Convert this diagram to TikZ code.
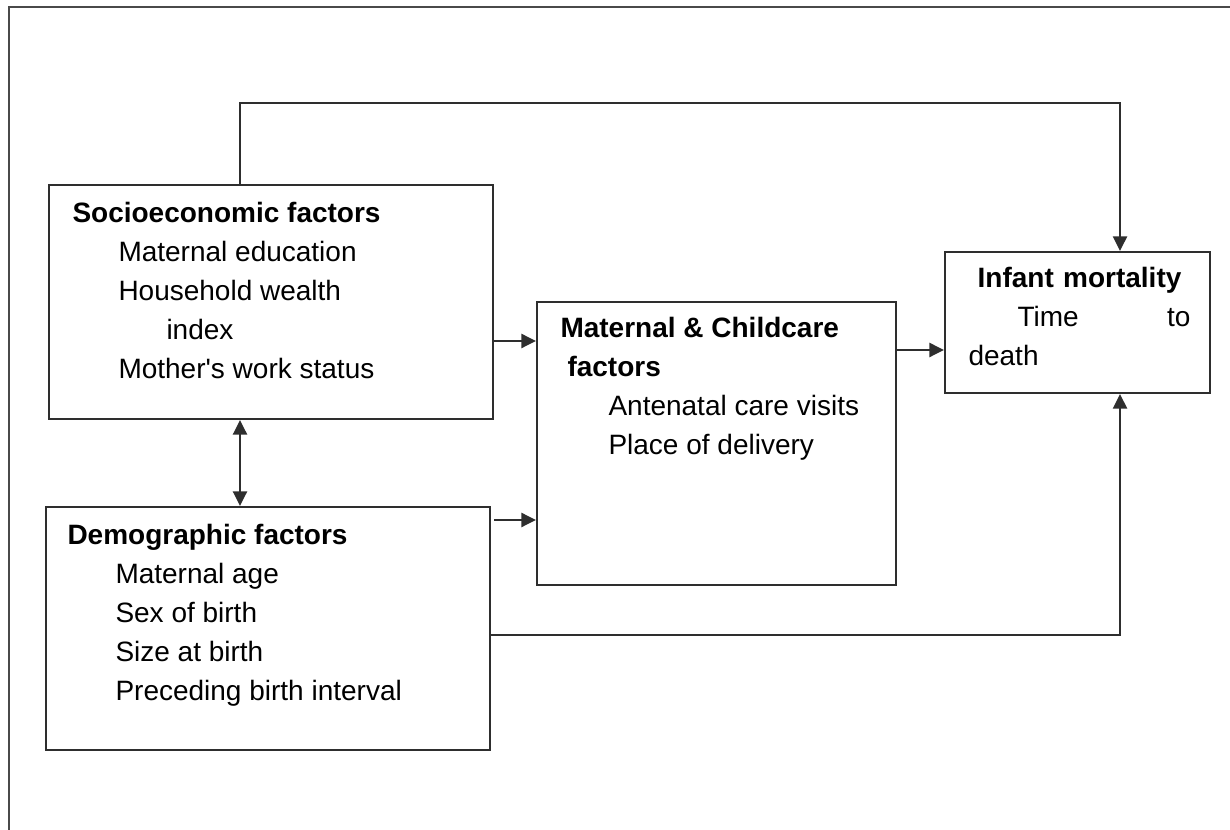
\documentclass[tikz,border=0pt]{standalone}
\usepackage{fontspec}
\setmainfont{Liberation Sans}
\usetikzlibrary{arrows.meta,positioning,calc}
\definecolor{boxline}{HTML}{2E2E2E}
\definecolor{frameline}{HTML}{4A4A4A}

\begin{document}
\begin{tikzpicture}[
    x=0.4pt, y=-0.4pt,
    every node/.style={font=\fontsize{11.2}{15.6}\selectfont},
    factorbox/.style={draw=boxline, line width=0.85pt, inner sep=0pt},
    boxtext/.style={anchor=north west, align=left, inner sep=0pt},
    link/.style={draw=boxline, line width=0.85pt, -{Triangle[length=5.8pt,width=5.6pt]}},
    dlink/.style={draw=boxline, line width=0.85pt, {Triangle[length=5.8pt,width=5.6pt]}-{Triangle[length=5.8pt,width=5.6pt]}},
]
\useasboundingbox (0,0) rectangle (1230,830);

% Outer frame (open at right and bottom)
\draw[frameline, line width=0.8pt] (9,830) -- (9,7) -- (1230,7);

% Factor boxes
\node[factorbox, minimum width=177.6pt, minimum height=93.6pt] (socio) at (271,302) {};
\node[factorbox, minimum width=177.6pt, minimum height=97.2pt] (demo) at (268,628.5) {};
\node[factorbox, minimum width=143.6pt, minimum height=113.2pt] (matern) at (716.5,443.5) {};
\node[factorbox, minimum width=106pt, minimum height=56.4pt] (infant) at (1077.5,322.5) {};

% Box texts
\node[boxtext] (socio-txt) at (72,202) {\textbf{Socioeconomic factors}\\
    \hspace*{18.4pt}Maternal education\\
    \hspace*{18.4pt}Household wealth\\
    \hspace*{37.6pt}index\\
    \hspace*{18.4pt}Mother\textquotesingle s work status};

\node[boxtext] (demo-txt) at (67,524) {\textbf{Demographic factors}\\
    \hspace*{19.2pt}Maternal age\\
    \hspace*{19.2pt}Sex of birth\\
    \hspace*{19.2pt}Size at birth\\
    \hspace*{19.2pt}Preceding birth interval};

\node[boxtext] (matern-txt) at (560,317) {\textbf{Maternal \& Childcare}\\
    \hspace*{2.8pt}\textbf{factors}\\
    \hspace*{19.2pt}Antenatal care visits\\
    \hspace*{19.2pt}Place of delivery};

\node[anchor=north west, inner sep=0pt, text width=88.8pt, align=center] (infant-txt) at (968,267)
    {\textbf{Infant mortality}\\ \hspace*{19.6pt}Time\hfill to\\ death\hfill\mbox{}};

% Bend points of the outer links
\coordinate (loopA) at (240,103);
\coordinate (loopB) at (1120,103);

% Links
\draw[link] (socio.north -| loopA) |- (loopB) -- (infant.north -| loopB);
\draw[dlink] (socio.south -| loopA) -- (demo.north -| loopA);
\draw[link] ([yshift=-15.6pt]socio.east) -- ([yshift=-15.6pt]socio.east -| matern.west);
\draw[link] ([xshift=1.2pt,yshift=43.4pt]demo.east) -- ([yshift=43.4pt]demo.east -| matern.west);
\draw[link] ([yshift=37.4pt]matern.east) -- ([yshift=37.4pt]matern.east -| infant.west);
\draw[link] ([yshift=-2.6pt]demo.east) -| (infant.south -| loopB);

\end{tikzpicture}
\end{document}
